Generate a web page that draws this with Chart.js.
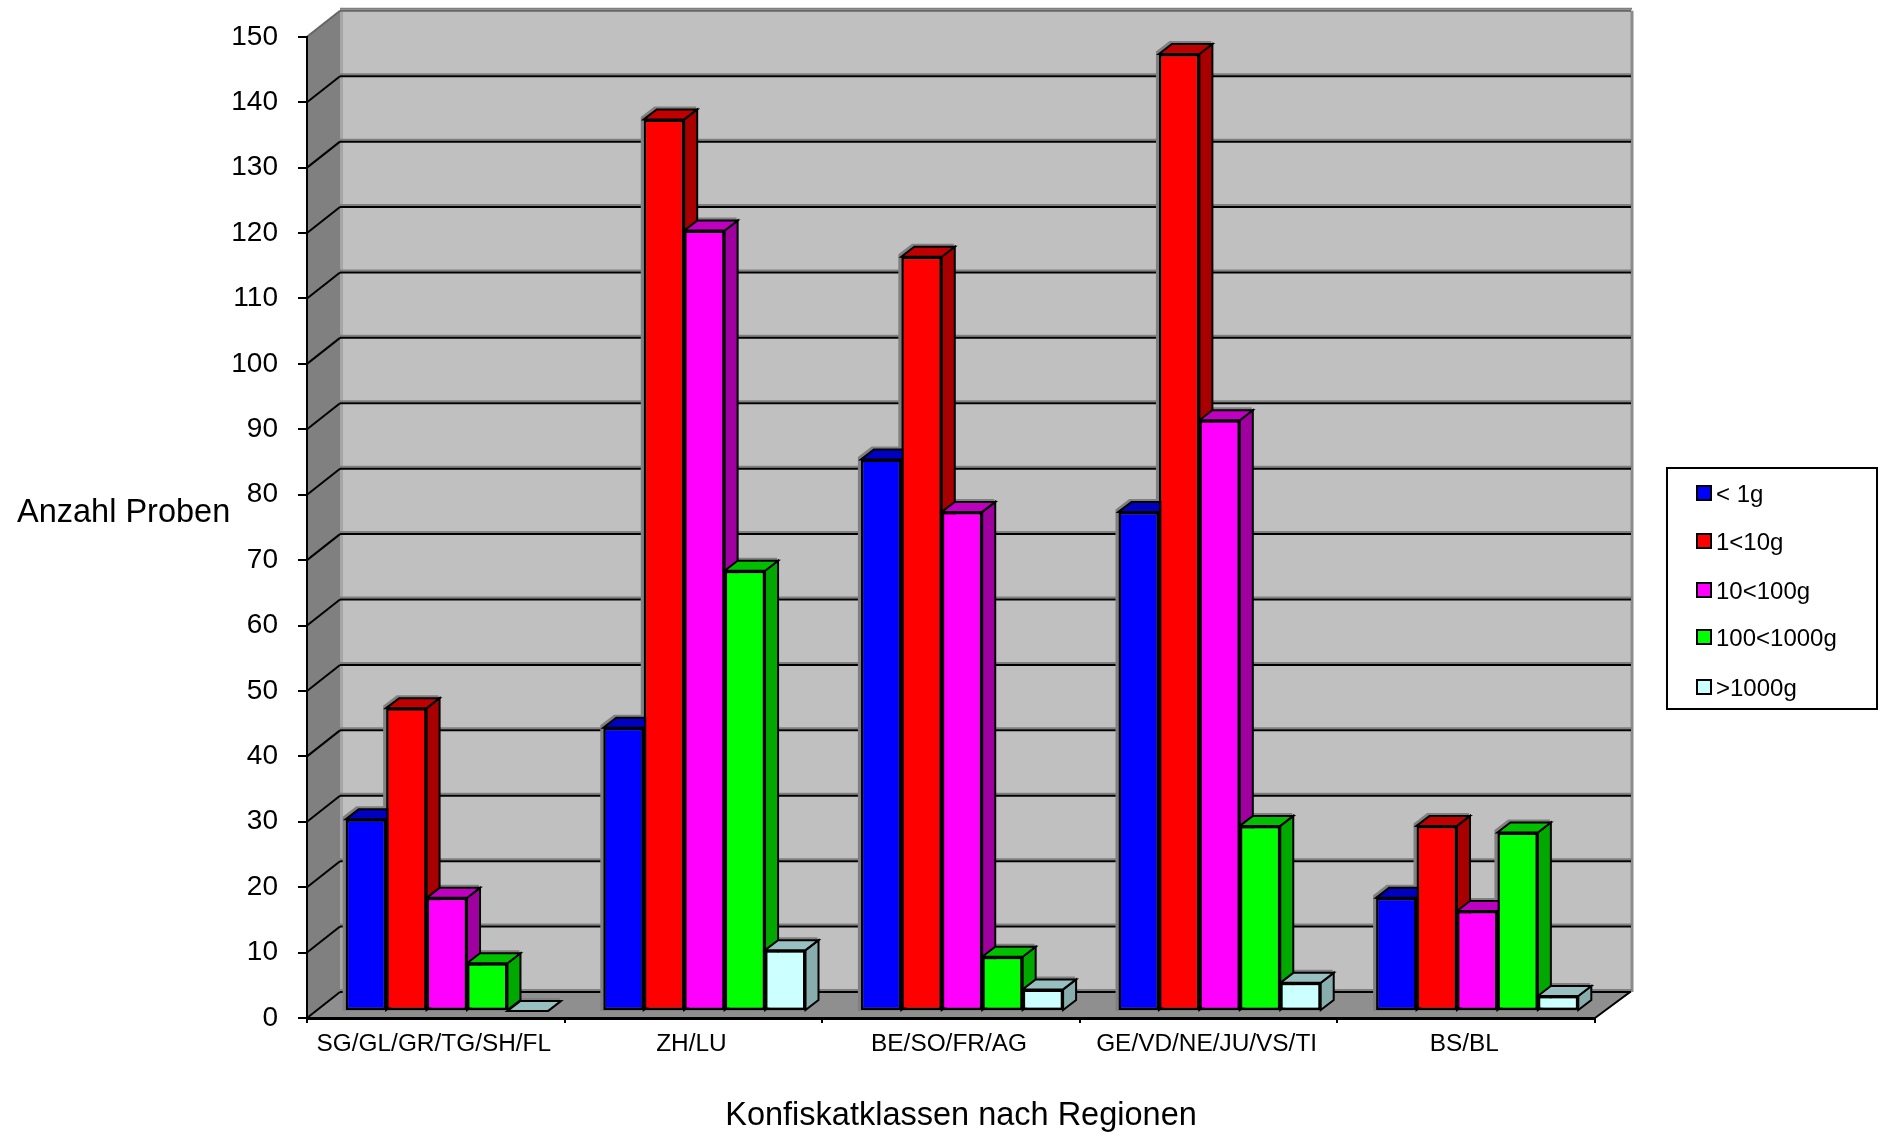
<!DOCTYPE html>
<html lang="de">
<head>
<meta charset="utf-8">
<title>Konfiskatklassen nach Regionen</title>
<script src="https://cdn.jsdelivr.net/npm/chart.js@4"></script>
<style>
html, body { margin: 0; padding: 0; background: #fff; overflow: hidden; }
canvas { display: block; }
</style>
</head>
<body>
<canvas id="chart" width="1879" height="1132"></canvas>
<script>
// ------------------------------
// Data
// ------------------------------

const regions = ["SG/GL/GR/TG/SH/FL", "ZH/LU", "BE/SO/FR/AG", "GE/VD/NE/JU/VS/TI", "BS/BL"];
const classes = ["< 1g", "1<10g", "10<100g", "100<1000g", ">1000g"];

const under1g = [29.3, 43.3, 84.3, 76.3, 17.3];
const from1to10g = [46.3, 136.3, 115.3, 146.3, 28.3];
const from10to100g = [17.3, 119.3, 76.3, 90.3, 15.3];
const from100to1000g = [7.3, 67.3, 8.3, 28.3, 27.3];
const over1000g = [0, 9.3, 3.3, 4.3, 2.3];

const yTitle = "Anzahl Proben";
const xTitle = "Konfiskatklassen nach Regionen";

// ------------------------------
// Colours
// ------------------------------

const frontColours = ["#0000ff", "#ff0000", "#ff00ff", "#00ff00", "#ccffff"];
const topColours = ["#0000c0", "#c00000", "#c000c0", "#00c000", "#99c0c0"];
const sideColours = ["#00009c", "#a80000", "#a000a0", "#00a800", "#88adad"];

// ------------------------------
// Fake 3D: walls, floor, bar sides
// ------------------------------

const WALL_DX = 33;
const WALL_DY = -26;
const BAR_SHIFT_X = 11;
const BAR_SHIFT_Y = -7;
const BAR_DX = 13;
const BAR_DY = -10;

function polygon(ctx, points, fill, stroke, lineWidth) {
    ctx.beginPath();
    points.forEach((p, i) => i ? ctx.lineTo(p[0], p[1]) : ctx.moveTo(p[0], p[1]));
    ctx.closePath();
    ctx.fillStyle = fill;
    ctx.fill();
    if (stroke) {
        ctx.strokeStyle = stroke;
        ctx.lineWidth = lineWidth;
        ctx.lineJoin = "miter";
        ctx.stroke();
    }
}

function line(ctx, x1, y1, x2, y2, colour, width) {
    ctx.beginPath();
    ctx.moveTo(x1, y1);
    ctx.lineTo(x2, y2);
    ctx.strokeStyle = colour;
    ctx.lineWidth = width;
    ctx.stroke();
}

const box3d = {
    id: "box3d",

    beforeDraw(chart) {
        const ctx = chart.ctx;
        const a = chart.chartArea;
        const y = chart.scales.y;
        const backL = a.left + WALL_DX;
        const backR = a.right + WALL_DX + 4;
        const top = a.top + WALL_DY;
        const bottom = a.bottom + WALL_DY;

        ctx.save();
        // back wall, left wall, floor
        polygon(ctx, [[backL, top], [backR, top], [backR, bottom], [backL, bottom]], "#c0c0c0");
        polygon(ctx, [[a.left, a.top], [backL, top], [backL, bottom], [a.left, a.bottom]], "#808080");
        polygon(ctx, [[a.left, a.bottom], [backL, bottom], [backR, bottom], [a.right, a.bottom]], "#8f8f8f");

        line(ctx, backL + 1.5, top, backL + 1.5, bottom, "#a6a6a6", 3);
        line(ctx, backR, top, backR, bottom, "#8c8c8c", 3);

        // grid lines go round the back corner
        y.ticks.forEach(t => {
            const py = y.getPixelForValue(t.value);
            const by = py + WALL_DY;
            const colour = t.value === 150 ? "#666666" : "#000000";
            line(ctx, backL, by - 2, backR, by - 2, "#808080", 2);
            line(ctx, a.left, py, backL, by, colour, 2);
            line(ctx, backL, by, backR - 1, by, colour, 2);
        });

        // right edge of the floor
        line(ctx, a.right, a.bottom, backR - 2, bottom, "#000000", 2);
        ctx.restore();
    },

    // sides and tops go first, left to right, so every front face can sit over them
    beforeDatasetsDraw(chart) {
        const ctx = chart.ctx;
        const metas = chart.data.datasets.map((ds, i) => chart.getDatasetMeta(i));
        ctx.save();
        ctx.translate(BAR_SHIFT_X, BAR_SHIFT_Y);

        // grey halo up and left of each bar
        metas.forEach(meta => meta.data.forEach(bar => {
            const left = bar.x - bar.width / 2 - 2;
            const right = bar.x + bar.width / 2 - 2;
            const up = bar.y - 2;
            polygon(ctx, [[left, bar.base], [left, up], [left + BAR_DX, up + BAR_DY], [right + BAR_DX, up + BAR_DY],
                [right + BAR_DX, bar.base + BAR_DY], [right, bar.base]], "#808080", "#808080", 2);
        }));

        metas.forEach((meta, i) => meta.data.forEach(bar => {
            const left = bar.x - bar.width / 2;
            const right = bar.x + bar.width / 2;
            polygon(ctx, [[right, bar.y], [right + BAR_DX, bar.y + BAR_DY], [right + BAR_DX, bar.base + BAR_DY], [right, bar.base]],
                sideColours[i], "#000000", 2);
            polygon(ctx, [[left, bar.y], [left + BAR_DX, bar.y + BAR_DY], [right + BAR_DX, bar.y + BAR_DY], [right, bar.y]],
                topColours[i], "#000000", 2);
        }));
        ctx.restore();
    },

    beforeDatasetDraw(chart) {
        chart.ctx.save();
        chart.ctx.translate(BAR_SHIFT_X, BAR_SHIFT_Y);
    },

    afterDatasetDraw(chart) {
        chart.ctx.restore();
    },

    afterDraw(chart) {
        const ctx = chart.ctx;
        ctx.save();
        ctx.fillStyle = "#000000";
        ctx.textBaseline = "middle";

        // axis titles sit level, away from the axis centre
        ctx.font = "32.5px 'Liberation Sans'";
        ctx.textAlign = "left";
        ctx.fillText(yTitle, 17, 513);
        ctx.textAlign = "center";
        ctx.fillText(xTitle, 961, 1116);

        // legend box
        ctx.strokeStyle = "#000000";
        ctx.lineWidth = 2;
        ctx.strokeRect(1667, 468, 210, 241);

        const rowY = [493, 541, 590, 637, 687];
        ctx.font = "24px 'Liberation Sans'";
        ctx.textAlign = "left";
        chart.data.datasets.forEach((ds, i) => {
            ctx.fillStyle = ds.backgroundColor;
            ctx.fillRect(1697, rowY[i] - 7, 14, 14);
            ctx.strokeRect(1697, rowY[i] - 7, 14, 14);
            ctx.fillStyle = "#000000";
            ctx.fillText(ds.label, 1716, rowY[i] + 2);
        });
        ctx.restore();
    }
};

// ------------------------------
// Bar Chart
// ------------------------------

const seriesValues = [under1g, from1to10g, from10to100g, from100to1000g, over1000g];

new Chart(document.getElementById("chart"), {
    type: "bar",
    plugins: [box3d],
    data: {
        labels: regions,
        datasets: classes.map((name, i) => ({
            label: name,
            data: seriesValues[i],
            backgroundColor: frontColours[i],
            borderColor: "#000000",
            borderWidth: 2.5,
            borderSkipped: false,
            categoryPercentage: 0.785,
            barPercentage: 1,
            clip: false
        }))
    },
    options: {
        responsive: false,
        animation: false,
        devicePixelRatio: 1,
        layout: { padding: { top: 36, right: 284, bottom: 0, left: 0 } },
        plugins: {
            legend: { display: false },
            title: { display: false },
            tooltip: { enabled: false }
        },
        scales: {
            x: {
                afterFit(scale) { scale.height = 114; },
                border: { display: true, color: "#000000", width: 3 },
                grid: { offset: true, drawOnChartArea: false, color: "#000000", lineWidth: 2, tickLength: 5 },
                ticks: {
                    color: "#000000",
                    maxRotation: 0,
                    autoSkip: false,
                    padding: 7,
                    labelOffset: -2,
                    font: { family: "'Liberation Sans'", size: 24.4 }
                }
            },
            y: {
                min: 0,
                max: 150,
                afterFit(scale) { scale.width = 307; },
                border: { display: true, color: "#000000", width: 2 },
                grid: { drawOnChartArea: false, color: "#000000", lineWidth: 2, tickLength: 9 },
                ticks: {
                    stepSize: 10,
                    color: "#000000",
                    padding: 20,
                    font: { family: "'Liberation Sans'", size: 28 }
                }
            }
        }
    }
});
</script>
</body>
</html>
